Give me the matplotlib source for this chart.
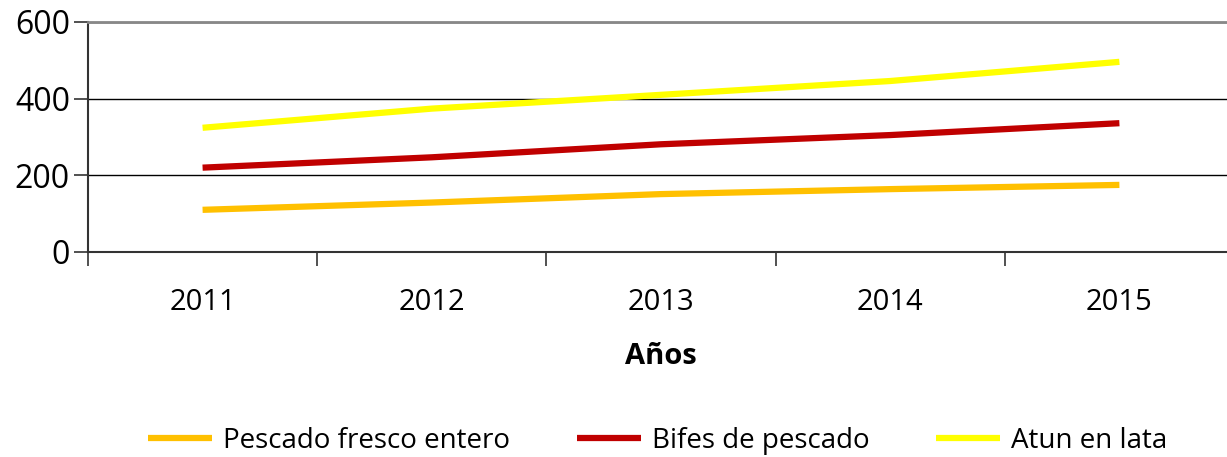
import matplotlib.pyplot as plt
from matplotlib.ticker import FixedLocator

plt.rcParams['font.family'] = ['Open Sans', 'DejaVu Sans']

years = ['2011', '2012', '2013', '2014', '2015']
pescado_fresco = [110, 129, 151, 164, 175]
bifes_pescado = [220, 247, 281, 305, 336]
atun_lata = [324, 374, 410, 446, 496]

series = [
    ('Pescado fresco entero', pescado_fresco, '#FFC000'),
    ('Bifes de pescado', bifes_pescado, '#C00000'),
    ('Atun en lata', atun_lata, '#FFFF00'),
]

fig = plt.figure(figsize=(12.27, 4.57), dpi=100)
ax = fig.add_axes([0.0717, 0.4486, 0.9340, 0.5033])

x = list(range(1, len(years) + 1))
for nombre, valores, color in series:
    ax.plot(x, valores, color=color, lw=4.5, label=nombre, solid_capstyle='butt')

ax.set_xlim(0.5, len(years) + 0.5)
ax.set_ylim(0, 600)
ax.set_yticks([0, 200, 400, 600])
ax.yaxis.grid(True, color='black', lw=1.0)
ax.set_axisbelow(True)

ax.set_xticks(x)
ax.set_xticklabels(years)
ax.xaxis.set_minor_locator(FixedLocator([i + 0.5 for i in range(0, len(years) + 1)]))
ax.tick_params(axis='x', which='major', length=0, pad=26, labelsize=21)
ax.tick_params(axis='x', which='minor', length=10, width=1.2, color='#333333')
ax.tick_params(axis='y', length=10, width=1.2, color='#333333', labelsize=23, pad=3)

for s in ['left', 'bottom']:
    ax.spines[s].set_color('#333333')
    ax.spines[s].set_linewidth(1.5)
ax.spines['top'].set_color('#888888')
ax.spines['top'].set_linewidth(2)
ax.spines['right'].set_visible(False)

ax.set_xlabel('Años', fontsize=21, fontweight='bold', labelpad=18)

fig.legend(loc='center', bbox_to_anchor=(0.536, 0.035), ncol=3, frameon=False,
           fontsize=20, handlelength=2.3, handletextpad=0.4, columnspacing=2.4,
           borderaxespad=0)

fig.savefig('out.png', dpi=100)
